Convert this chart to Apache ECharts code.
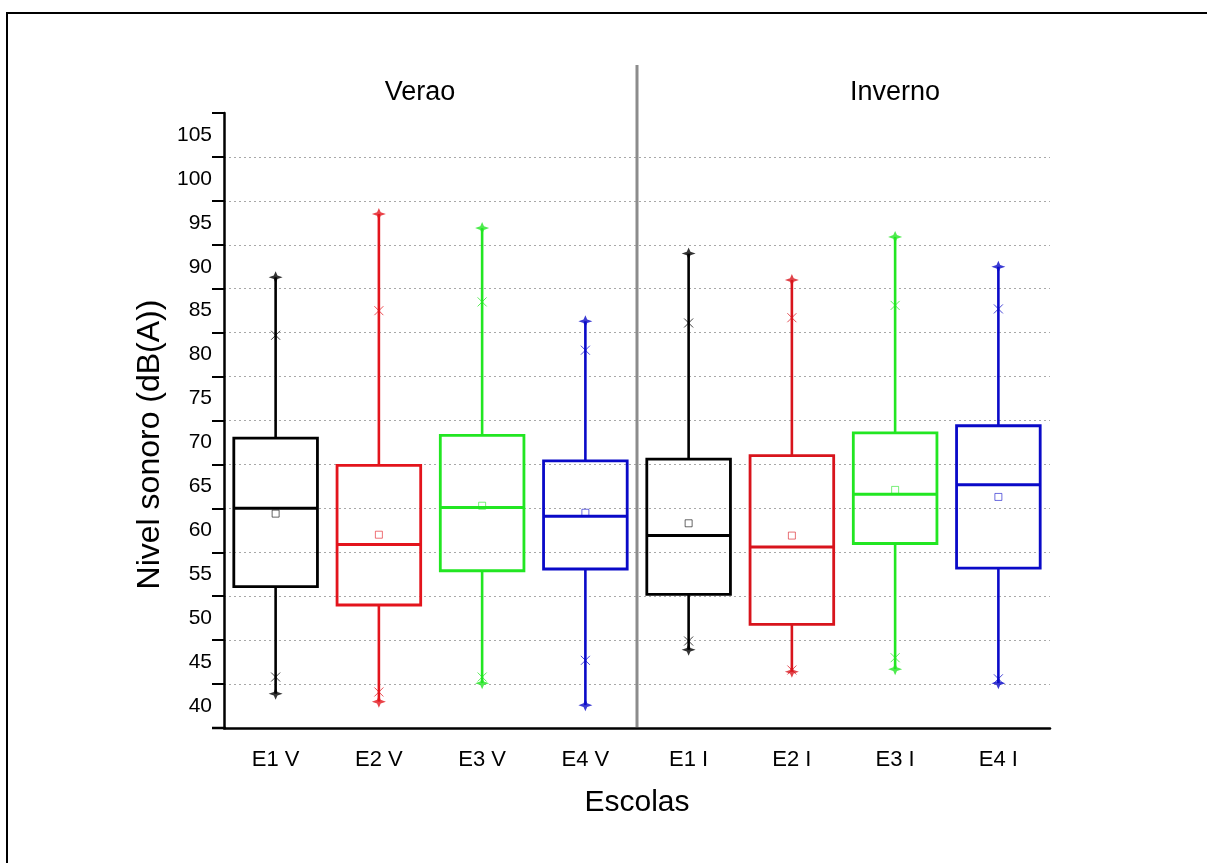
<!DOCTYPE html>
<html>
<head>
<meta charset="utf-8">
<script src="https://cdn.jsdelivr.net/npm/echarts@6/dist/echarts.min.js"></script>
<style>
html,body{margin:0;padding:0;background:#fff;}
#chart{width:1207px;height:863px;}
</style>
</head>
<body>
<div id="chart"></div>
<script>
// ---- data ----
const categories = ['E1 V','E2 V','E3 V','E4 V','E1 I','E2 I','E3 I','E4 I'];
const minVals  = [41.4, 40.5, 42.6, 40.1, 46.4, 43.9, 44.2, 42.6];
const q1Vals   = [53.6, 51.5, 55.4, 55.6, 52.7, 49.3, 58.5, 55.7];
const medVals  = [62.5, 58.4, 62.6, 61.6, 59.4, 58.1, 64.1, 65.2];
const q3Vals   = [70.5, 67.4, 70.8, 67.9, 68.1, 68.5, 71.1, 71.9];
const maxVals  = [88.8, 96.0, 94.4, 83.8, 91.5, 88.5, 93.4, 90.0];
const meanVals = [61.9, 59.5, 62.8, 62.0, 60.8, 59.4, 64.6, 63.8];
const p99Vals  = [82.2, 85.0, 86.0, 80.5, 83.6, 84.2, 85.6, 85.2];
const p1Vals   = [43.3, 41.6, 43.3, 45.2, 47.4, 44.1, 45.5, 43.1];
const yTickLabels = [40,45,50,55,60,65,70,75,80,85,90,95,100,105];
const groupTitles = ['Verao','Inverno'];

const colors = ['#000000','#e3141c','#22e622','#0a0ac8','#000000','#d8141c','#22e622','#0a0ac8'];
const FONT = 'Liberation Sans, Arial, sans-serif';

const boxData = categories.map((c,i)=>[i, minVals[i], q1Vals[i], medVals[i], q3Vals[i], maxVals[i]]);
const starData = [];
const crossData = [];
const meanData = [];
categories.forEach((c,i)=>{
  starData.push({value:[i, minVals[i]], itemStyle:{color:colors[i]}});
  starData.push({value:[i, maxVals[i]], itemStyle:{color:colors[i]}});
  crossData.push({value:[i, p1Vals[i]], itemStyle:{color:'none', borderColor:colors[i], opacity:0.75}});
  crossData.push({value:[i, p99Vals[i]], itemStyle:{color:'none', borderColor:colors[i], opacity:0.75}});
  meanData.push({value:[i, meanVals[i]], itemStyle:{color:'none', borderColor:colors[i], opacity:0.6}});
});

const chart = echarts.init(document.getElementById('chart'), null, {renderer:'canvas'});

const option = {
  backgroundColor:'#fff',
  animation:false,
  grid:{left:224, right:157, top:113, bottom:135, containLabel:false},
  xAxis:{
    type:'category',
    data:categories,
    boundaryGap:true,
    name:'Escolas',
    nameLocation:'middle',
    nameGap:60,
    nameTextStyle:{fontFamily:FONT, fontSize:30, color:'#000'},
    axisLine:{lineStyle:{color:'#000', width:2.5}},
    axisTick:{alignWithLabel:true, length:12, lineStyle:{color:'#000', width:2}},
    axisLabel:{fontFamily:FONT, fontSize:22, color:'#000', margin:21},
    splitLine:{show:false}
  },
  yAxis:[
    {
      type:'value',
      min:37.5, max:107.5, interval:2.5,
      name:'Nivel sonoro (dB(A))',
      nameLocation:'middle',
      nameGap:57,
      nameTextStyle:{fontFamily:FONT, fontSize:32, color:'#000', padding:[0,48,0,0]},
      axisLine:{show:true, lineStyle:{color:'#000', width:2.5}},
      axisTick:{show:false},
      splitLine:{show:false},
      axisLabel:{
        fontFamily:FONT, fontSize:21, color:'#000', margin:12,
        showMinLabel:true, showMaxLabel:true,
        formatter:function(v){ return yTickLabels.indexOf(Math.round(v*10)/10) >= 0 ? String(Math.round(v)) : ''; }
      }
    },
    {
      type:'value',
      min:0, max:14, interval:1,
      position:'left',
      axisLine:{show:false},
      axisLabel:{show:false},
      axisTick:{show:true, length:12, lineStyle:{color:'#000', width:2}},
      splitLine:{show:true, showMinLine:false, showMaxLine:false, lineStyle:{color:'#a8a8a8', width:1, type:[2,3]}}
    }
  ],
  series:[
    {
      type:'custom',
      name:'box',
      data:boxData,
      z:3,
      encode:{x:0, y:[1,2,3,4,5]},
      renderItem:function(params, api){
        const i = api.value(0);
        const c = colors[i];
        const bw = api.size([1,0])[0]*0.81;
        const pMin = api.coord([i, api.value(1)]);
        const pQ1 = api.coord([i, api.value(2)]);
        const pMed = api.coord([i, api.value(3)]);
        const pQ3 = api.coord([i, api.value(4)]);
        const pMax = api.coord([i, api.value(5)]);
        const x = pQ1[0];
        return {
          type:'group',
          children:[
            {type:'line', shape:{x1:x, y1:pMax[1], x2:x, y2:pQ3[1]}, style:{stroke:c, lineWidth:2.6}},
            {type:'line', shape:{x1:x, y1:pQ1[1], x2:x, y2:pMin[1]}, style:{stroke:c, lineWidth:2.6}},
            {type:'rect', shape:{x:x-bw/2, y:pQ3[1], width:bw, height:pQ1[1]-pQ3[1]}, style:{fill:'none', stroke:c, lineWidth:2.8}},
            {type:'line', shape:{x1:x-bw/2, y1:pMed[1], x2:x+bw/2, y2:pMed[1]}, style:{stroke:c, lineWidth:3}}
          ]
        };
      }
    },
    {
      type:'scatter',
      name:'extremes',
      data:starData,
      z:4,
      symbol:'path://M0,-5 L1.7,-1.5 L6.5,0 L1.7,1.5 L0,5 L-1.7,1.5 L-6.5,0 L-1.7,-1.5 Z',
      symbolSize:[14,12],
      silent:true
    },
    {
      type:'scatter',
      name:'p1p99',
      data:crossData,
      z:4,
      symbol:'path://M0,0 L10,10 M10,0 L0,10',
      symbolSize:9,
      itemStyle:{borderWidth:1},
      silent:true
    },
    {
      type:'scatter',
      name:'mean',
      data:meanData,
      z:4,
      symbol:'rect',
      symbolSize:7,
      itemStyle:{borderWidth:1},
      silent:true
    }
  ]
};
chart.setOption(option);

// decorations: separator between the two seasons, group titles, frame
const c3 = chart.convertToPixel({xAxisIndex:0}, 3);
const c4 = chart.convertToPixel({xAxisIndex:0}, 4);
const sepX = (c3 + c4)/2;
const yBottom = chart.convertToPixel({yAxisIndex:0}, 37.5);
chart.setOption({
  graphic:[
    {type:'line', shape:{x1:sepX, y1:65, x2:sepX, y2:yBottom-1}, style:{stroke:'#8c8c8c', lineWidth:3}, z:2},
    {type:'line', shape:{x1:212, y1:yBottom, x2:226, y2:yBottom}, style:{stroke:'#000', lineWidth:2.5}, z:5},
    {type:'text', x:420, y:93, style:{text:groupTitles[0], font:'27px '+FONT, fill:'#000', textAlign:'center', textVerticalAlign:'middle'}},
    {type:'text', x:895, y:93, style:{text:groupTitles[1], font:'27px '+FONT, fill:'#000', textAlign:'center', textVerticalAlign:'middle'}},
    {type:'polyline', shape:{points:[[7,863],[7,13],[1207,13]]}, style:{stroke:'#000', lineWidth:2, fill:'none'}}
  ]
});
</script>
</body>
</html>
